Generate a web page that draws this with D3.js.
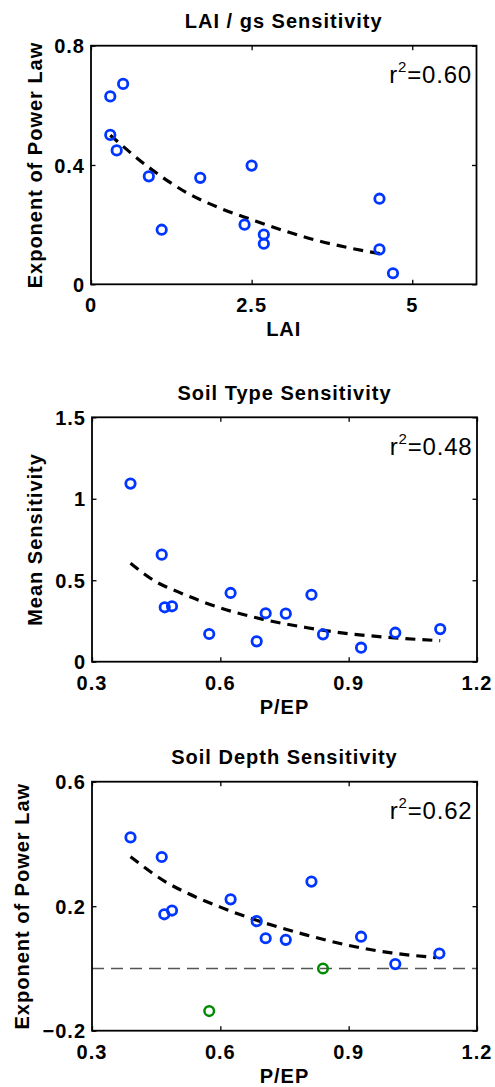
<!DOCTYPE html>
<html>
<head>
<meta charset="utf-8">
<script src="https://cdn.jsdelivr.net/npm/d3@7"></script>
<style>
  html, body { margin: 0; padding: 0; background: #fff; }
  svg { display: block; }
  text { font-family: "Liberation Sans", Arial, Helvetica, sans-serif; fill: #000; }
  .bold { font-weight: bold; font-size: 20px; letter-spacing: 1px; }
  .r2 { font-size: 24px; letter-spacing: 0.8px; }
</style>
</head>
<body>
<svg id="chart" width="495" height="1087"></svg>
<script>
// ---------- Panel 1: LAI / gs Sensitivity ----------
const laiX = [0.30, 0.50, 0.30, 0.40, 0.90, 1.10, 1.70, 2.50, 2.39, 2.69, 2.69, 4.49, 4.49, 4.70];
const laiY = [0.630, 0.672, 0.501, 0.449, 0.362, 0.183, 0.357, 0.398, 0.200, 0.167, 0.136, 0.287, 0.117, 0.037];
const laiFitX = [0.30, 0.90, 1.50, 2.00, 2.50, 3.00, 3.50, 4.00, 4.57];
const laiFitY = [0.500, 0.392, 0.306, 0.256, 0.217, 0.180, 0.148, 0.123, 0.100];
const laiXTicks = [0, 2.5, 5];
const laiYTicks = [0, 0.4, 0.8];

// ---------- Panel 2: Soil Type Sensitivity ----------
const typeX = [0.390, 0.463, 0.470, 0.487, 0.574, 0.624, 0.685, 0.706, 0.753, 0.813, 0.840, 0.929, 1.009, 1.114];
const typeY = [1.093, 0.657, 0.334, 0.340, 0.170, 0.422, 0.125, 0.297, 0.295, 0.411, 0.168, 0.086, 0.178, 0.200];
const typeFitX = [0.390, 0.450, 0.500, 0.600, 0.700, 0.800, 0.900, 1.000, 1.114];
const typeFitY = [0.604, 0.490, 0.430, 0.330, 0.260, 0.210, 0.172, 0.148, 0.129];
const typeXTicks = [0.3, 0.6, 0.9, 1.2];
const typeYTicks = [0, 0.5, 1, 1.5];

// ---------- Panel 3: Soil Depth Sensitivity ----------
const depthX = [0.390, 0.463, 0.469, 0.487, 0.624, 0.685, 0.706, 0.753, 0.813, 0.929, 1.009, 1.112];
const depthY = [0.421, 0.358, 0.174, 0.186, 0.222, 0.152, 0.097, 0.092, 0.279, 0.102, 0.014, 0.048];
const depthGreenX = [0.574, 0.840];
const depthGreenY = [-0.137, 0.000];
const depthFitX = [0.390, 0.470, 0.550, 0.600, 0.700, 0.800, 0.900, 1.000, 1.104];
const depthFitY = [0.359, 0.280, 0.225, 0.197, 0.148, 0.108, 0.074, 0.050, 0.035];
const depthXTicks = [0.3, 0.6, 0.9, 1.2];
const depthYTicks = [-0.2, 0.2, 0.6];

const BLUE = "#0036ff";
const GREEN = "#008a00";

const svg = d3.select("#chart");

function fmt(v) {
  const s = String(v);
  return v < 0 ? "\u2212" + s.slice(1) : s;
}

function panel(cfg) {
  const { left, right, top, bottom } = cfg.box;
  const x = d3.scaleLinear().domain(cfg.xDomain).range([left, right]);
  const y = d3.scaleLinear().domain(cfg.yDomain).range([bottom, top]);
  const g = svg.append("g");
  const tl = 4.5;

  // zero reference line
  if (cfg.zeroLine) {
    g.append("line")
      .attr("x1", left).attr("x2", right)
      .attr("y1", y(0)).attr("y2", y(0))
      .attr("stroke", "#555").attr("stroke-width", 1.6)
      .attr("stroke-dasharray", "12,7");
  }

  // fit line
  const line = d3.line().x(d => x(d[0])).y(d => y(d[1])).curve(d3.curveMonotoneX);
  g.append("path")
    .datum(cfg.fitX.map((v, i) => [v, cfg.fitY[i]]))
    .attr("d", line)
    .attr("fill", "none").attr("stroke", "#000")
    .attr("stroke-width", 3.2).attr("stroke-dasharray", "10,7");

  // markers
  g.selectAll("circle.b")
    .data(cfg.xs.map((v, i) => [v, cfg.ys[i]]))
    .join("circle").attr("class", "b")
    .attr("cx", d => x(d[0])).attr("cy", d => y(d[1]))
    .attr("r", 4.7).attr("fill", "none")
    .attr("stroke", BLUE).attr("stroke-width", 2.8);

  if (cfg.gx) {
    g.selectAll("circle.g")
      .data(cfg.gx.map((v, i) => [v, cfg.gy[i]]))
      .join("circle").attr("class", "g")
      .attr("cx", d => x(d[0])).attr("cy", d => y(d[1]))
      .attr("r", 4.8).attr("fill", "none")
      .attr("stroke", GREEN).attr("stroke-width", 2.5);
  }

  // axes with inward ticks on all four sides
  const axB = d3.axisBottom(x).tickValues(cfg.xTicks).tickSize(-tl).tickFormat("");
  const axT = d3.axisTop(x).tickValues(cfg.xTicks).tickSize(-tl).tickFormat("");
  const axL = d3.axisLeft(y).tickValues(cfg.yTicks).tickSize(-tl).tickFormat("");
  const axR = d3.axisRight(y).tickValues(cfg.yTicks).tickSize(-tl).tickFormat("");
  [[axB, `translate(0,${bottom})`], [axT, `translate(0,${top})`],
   [axL, `translate(${left},0)`], [axR, `translate(${right},0)`]].forEach(([ax, tr]) => {
    const a = g.append("g").attr("transform", tr).call(ax);
    a.select(".domain").remove();
    a.selectAll("line").attr("stroke", "#000").attr("stroke-width", 1.3);
  });
  g.append("rect")
    .attr("x", left).attr("y", top)
    .attr("width", right - left).attr("height", bottom - top)
    .attr("fill", "none").attr("stroke", "#000").attr("stroke-width", 1.8);

  // tick labels
  g.selectAll("text.xt").data(cfg.xTicks).join("text").attr("class", "xt bold")
    .attr("x", d => x(d)).attr("y", bottom + 28)
    .attr("text-anchor", "middle").text(d => fmt(d));
  g.selectAll("text.yt").data(cfg.yTicks).join("text").attr("class", "yt bold")
    .attr("x", left - 6).attr("y", d => y(d) + 7.5)
    .attr("text-anchor", "end").text(d => fmt(d));

  // title
  g.append("text").attr("class", "bold")
    .attr("x", (left + right) / 2).attr("y", top - 17.8)
    .attr("text-anchor", "middle").text(cfg.title);

  // x label
  g.append("text").attr("class", "bold")
    .attr("x", (left + right) / 2).attr("y", bottom + 52)
    .attr("text-anchor", "middle").text(cfg.xLabel);

  // y label
  g.append("text").attr("class", "bold")
    .attr("transform", `translate(${cfg.yLabelX},${(top + bottom) / 2}) rotate(-90)`)
    .attr("text-anchor", "middle").text(cfg.yLabel);

  // r^2 annotation
  const t = g.append("text").attr("class", "r2")
    .attr("x", right - 4.5).attr("y", top + 37.5)
    .attr("text-anchor", "end");
  t.append("tspan").text("r");
  t.append("tspan").attr("font-size", "15px").attr("dy", -11).text("2");
  t.append("tspan").attr("dy", 11).text("=" + cfg.r2);
}

panel({
  box: { left: 91, right: 476.5, top: 45.7, bottom: 284.3 },
  xDomain: [0, 6], yDomain: [0, 0.8],
  xs: laiX, ys: laiY, fitX: laiFitX, fitY: laiFitY,
  xTicks: laiXTicks, yTicks: laiYTicks,
  title: "LAI / gs Sensitivity", xLabel: "LAI", yLabel: "Exponent of Power Law",
  yLabelX: 42, r2: "0.60"
});

panel({
  box: { left: 92, right: 477, top: 417.3, bottom: 661.7 },
  xDomain: [0.3, 1.2], yDomain: [0, 1.5],
  xs: typeX, ys: typeY, fitX: typeFitX, fitY: typeFitY,
  xTicks: typeXTicks, yTicks: typeYTicks,
  title: "Soil Type Sensitivity", xLabel: "P/EP", yLabel: "Mean Sensitivity",
  yLabelX: 42, r2: "0.48"
});

panel({
  box: { left: 92, right: 477, top: 781.7, bottom: 1030.7 },
  xDomain: [0.3, 1.2], yDomain: [-0.2, 0.6],
  xs: depthX, ys: depthY, gx: depthGreenX, gy: depthGreenY,
  fitX: depthFitX, fitY: depthFitY,
  xTicks: depthXTicks, yTicks: depthYTicks, zeroLine: true,
  title: "Soil Depth Sensitivity", xLabel: "P/EP", yLabel: "Exponent of Power Law",
  yLabelX: 29, r2: "0.62"
});
</script>
</body>
</html>
